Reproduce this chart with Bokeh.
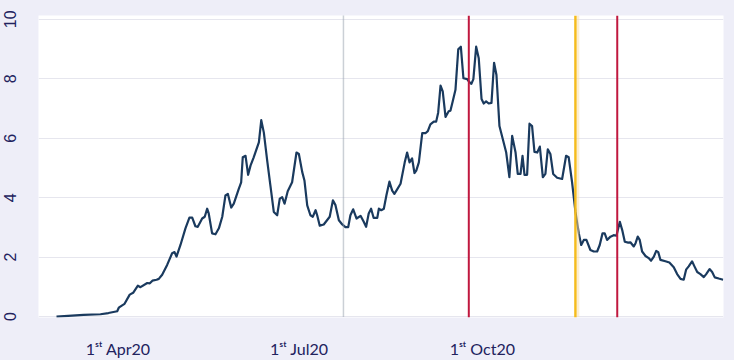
from bokeh.plotting import figure
from bokeh.models import Range1d, FixedTicker, Span
from bokeh.embed import file_html
from bokeh.resources import INLINE

# Days since 1 March 2020 (vertices) and values
days = [0.0, 13.6, 22.1, 26.1, 30.5, 31.3, 33.0, 34.2, 36.8, 38.5,
        40.9, 42.2, 45.6, 46.9, 48.2, 50.3, 51.4, 53.1, 55.6, 58.1,
        59.3, 60.3, 62.3, 64.8, 66.8, 68.2, 69.8, 71.0, 73.2, 74.5,
        75.7, 76.5, 78.2, 79.9, 81.6, 83.3, 84.9, 86.1, 87.8, 89.1,
        91.6, 92.8, 93.6, 95.0, 96.3, 97.5, 99.1, 101.7, 102.9, 104.2,
        105.9, 107.5, 109.2, 110.9, 112.2, 113.4, 114.6, 116.2, 118.4, 120.6,
        121.8, 123.5, 124.6, 126.0, 127.6, 128.8, 130.2, 131.0, 132.3, 134.3,
        137.3, 138.9, 140.2, 141.9, 143.6, 145.2, 146.6, 147.7, 149.1, 150.8,
        152.8, 154.4, 155.6, 156.9, 158.1, 159.4, 161.2, 162.0, 163.2, 164.5,
        165.8, 167.3, 168.7, 169.8, 171.2, 172.9, 175.0, 176.2, 177.4, 178.7,
        179.9, 180.8, 182.1, 183.8, 185.4, 186.6, 187.9, 189.6, 190.8, 191.8,
        193.0, 194.1, 195.5, 197.1, 198.0, 199.1, 200.5, 201.9, 203.2, 204.5,
        206.4, 207.2, 208.5, 209.5, 210.9, 212.2, 213.6, 214.7, 215.9, 217.2,
        218.6, 219.9, 221.1, 222.6, 224.3, 226.0, 227.6, 229.0, 230.7, 231.8,
        233.2, 234.2, 235.2, 236.5, 237.7, 239.0, 240.2, 241.6, 242.9, 244.4,
        245.7, 246.9, 248.2, 249.6, 251.6, 254.1, 256.1, 257.4, 259.1, 260.8,
        262.5, 263.7, 265.0, 266.3, 268.3, 270.0, 271.7, 273.0, 274.4, 275.5,
        276.7, 278.4, 280.0, 281.4, 283.1, 284.3, 285.6, 287.3, 288.4, 290.1,
        291.0, 292.1, 293.1, 294.3, 296.0, 297.6, 298.8, 300.2, 301.4, 302.4,
        303.5, 306.0, 308.0, 310.2, 311.9, 313.6, 315.2, 316.4, 317.7, 319.4,
        320.6, 322.0, 323.6, 325.3, 326.5, 328.2, 329.5, 330.8, 332.8, 335.0]

values = [0.00, 0.06, 0.08, 0.12, 0.18, 0.30, 0.38, 0.43, 0.74, 0.80,
          1.04, 0.99, 1.13, 1.12, 1.21, 1.24, 1.27, 1.41, 1.74, 2.13,
          2.17, 2.02, 2.41, 2.97, 3.33, 3.33, 3.04, 3.02, 3.30, 3.36,
          3.63, 3.47, 2.80, 2.77, 2.97, 3.36, 4.08, 4.13, 3.67, 3.80,
          4.30, 4.52, 5.36, 5.41, 4.77, 5.08, 5.36, 5.86, 6.61, 6.19,
          5.24, 4.41, 3.52, 3.41, 3.97, 4.02, 3.80, 4.22, 4.52, 5.52,
          5.47, 4.86, 4.58, 3.74, 3.41, 3.36, 3.58, 3.41, 3.06, 3.10,
          3.36, 3.91, 3.75, 3.24, 3.10, 3.01, 3.01, 3.41, 3.61, 3.30,
          3.39, 3.19, 3.02, 3.47, 3.63, 3.32, 3.32, 3.63, 3.58, 3.63,
          4.08, 4.54, 4.24, 4.13, 4.28, 4.47, 5.19, 5.52, 5.19, 5.32,
          4.83, 4.91, 5.19, 6.17, 6.17, 6.24, 6.47, 6.56, 6.56, 6.86,
          7.77, 7.58, 6.72, 6.91, 6.93, 7.24, 7.63, 8.99, 9.08, 8.02,
          7.99, 7.91, 7.83, 7.99, 9.08, 8.69, 7.32, 7.17, 7.24, 7.17,
          7.19, 8.54, 8.13, 6.41, 5.97, 5.52, 4.69, 6.08, 5.52, 4.80,
          4.80, 5.41, 4.77, 4.77, 6.49, 6.41, 5.54, 5.52, 5.72, 4.69,
          4.80, 5.63, 5.47, 4.80, 4.67, 4.63, 5.41, 5.36, 4.52, 3.52,
          2.80, 2.41, 2.58, 2.58, 2.24, 2.19, 2.19, 2.41, 2.80, 2.80,
          2.58, 2.69, 2.74, 2.72, 3.19, 2.91, 2.52, 2.49, 2.50, 2.36,
          2.47, 2.69, 2.58, 2.19, 2.04, 1.97, 1.88, 2.02, 2.21, 2.17,
          1.91, 1.86, 1.82, 1.66, 1.43, 1.27, 1.24, 1.58, 1.69, 1.86,
          1.69, 1.50, 1.43, 1.33, 1.43, 1.60, 1.50, 1.32, 1.28, 1.24]

tick_days = [31, 122, 214]
tick_labels = ["1\u02e2\u1d57 Apr20", "1\u02e2\u1d57 Jul20", "1\u02e2\u1d57 Oct20"]
y_ticks = [0, 2, 4, 6, 8, 10]

dotted_event_days = [144.2]
red_event_days = [207.2, 281.8]
yellow_event_days = [260.8]

BG = "#EEEEF8"
TXT = "#22225E"

p = figure(width=734, height=360, output_backend="svg", toolbar_location=None,
           x_range=Range1d(-9.05, 335.2), y_range=Range1d(-0.03, 10.13),
           background_fill_color="white", border_fill_color=BG)
p.min_border_left = 38
p.min_border_right = 11
p.min_border_top = 15
p.min_border_bottom = 40
p.outline_line_color = None

p.xgrid.visible = False
p.ygrid.grid_line_color = "#E6E6EE"
p.ygrid.grid_line_width = 1

p.xaxis.ticker = FixedTicker(ticks=tick_days)
p.xaxis.major_label_overrides = {t: l for t, l in zip(tick_days, tick_labels)}
p.yaxis.ticker = FixedTicker(ticks=y_ticks)

for ax in (p.xaxis, p.yaxis):
    ax.axis_line_color = None
    ax.major_tick_line_color = None
    ax.minor_tick_line_color = None
    ax.major_label_text_color = TXT

p.xaxis.major_label_text_font = "Lato"
p.xaxis.major_label_text_font_size = "16px"
p.xaxis.major_label_standoff = 15
p.yaxis.major_label_text_font = "Liberation Sans"
p.yaxis.major_label_text_font_size = "16px"
p.yaxis.major_label_orientation = "vertical"
p.yaxis.major_label_standoff = 16

for d in dotted_event_days:
    p.add_layout(Span(location=d, dimension="height", line_color="#97A2AE",
                      line_width=1.5, line_dash="1 1"))
for d in yellow_event_days:
    p.add_layout(Span(location=d, dimension="height", line_color="#F5BC1C",
                      line_width=2.5))
    p.add_layout(Span(location=d + 1.3, dimension="height", line_color="#F9DDA6",
                      line_width=2.5, line_dash="1 1"))
for d in red_event_days:
    p.add_layout(Span(location=d, dimension="height", line_color="#C0183F",
                      line_width=2))

p.line(days, values, line_color="#1A3A5E", line_width=2.2, line_join="round")

html = file_html(p, INLINE, title="chart")
html = html.replace("<head>", "<head><style>body{background:%s;}</style>" % BG, 1)
open("out.html", "w").write(html)
